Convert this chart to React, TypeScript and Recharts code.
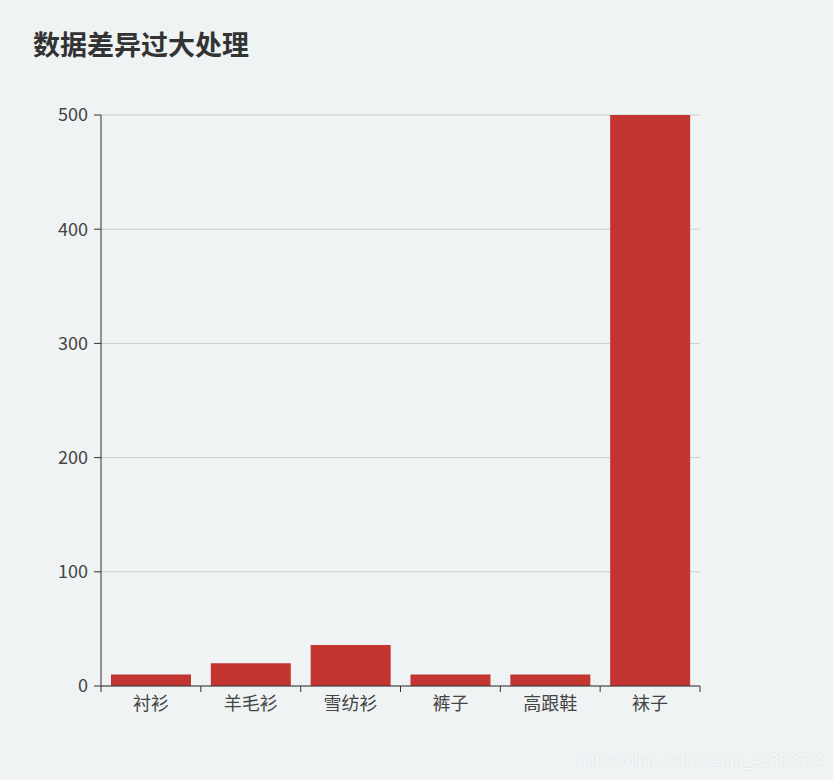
import { BarChart, Bar, XAxis, YAxis, CartesianGrid } from "recharts";

const categories = ["衬衫", "羊毛衫", "雪纺衫", "裤子", "高跟鞋", "袜子"];
const sales = [10, 20, 36, 10, 10, 500];
const yTicks = [0, 100, 200, 300, 400, 500];

const data = categories.map((name, i) => ({ name, value: sales[i] }));

const FONT = '"Microsoft YaHei", "Noto Sans CJK SC", sans-serif';
const AXIS = "#333";

// ECharts-style category tick: labels centred, tick marks on band edges
function CategoryTick(props: any) {
  const { x, y, payload, width, visibleTicksCount, index } = props;
  const step = width / visibleTicksCount;
  const axisY = y - 9;
  return (
    <g>
      <line x1={x - step / 2} y1={axisY} x2={x - step / 2} y2={axisY + 6} stroke={AXIS} />
      {index === visibleTicksCount - 1 && (
        <line x1={x + step / 2} y1={axisY} x2={x + step / 2} y2={axisY + 6} stroke={AXIS} />
      )}
      <text
        x={x}
        y={y + 2}
        dy="0.71em"
        textAnchor="middle"
        fill="#444"
        fontSize={18}
        fontFamily={FONT}
      >
        {payload.value}
      </text>
    </g>
  );
}

export default function App() {
  return (
    <div
      style={{
        position: "absolute",
        left: 0,
        top: 0,
        width: 833,
        height: 780,
        background: "#eff3f4",
        fontFamily: FONT,
        overflow: "hidden",
      }}
    >
      <div
        style={{
          position: "absolute",
          left: 33,
          top: 30,
          fontSize: 27,
          lineHeight: "27px",
          fontWeight: 700,
          color: "#333",
        }}
      >
        数据差异过大处理
      </div>
      <BarChart
        width={833}
        height={780}
        data={data}
        margin={{ top: 115, right: 133, bottom: 0, left: 0 }}
        barCategoryGap="10%"
      >
        <CartesianGrid vertical={false} stroke="#ccc" />
        <XAxis
          dataKey="name"
          height={94}
          axisLine={{ stroke: AXIS }}
          tickLine={false}
          tickSize={6}
          tickMargin={3}
          interval={0}
          tick={<CategoryTick />}
        />
        <YAxis
          width={101}
          domain={[0, 500]}
          ticks={yTicks}
          allowDataOverflow
          axisLine={{ stroke: AXIS }}
          tickLine={{ stroke: AXIS }}
          tickSize={7}
          tickMargin={6}
          tick={{ fill: "#444", fontSize: 18, fontFamily: FONT }}
        />
        <Bar dataKey="value" fill="#c23531" isAnimationActive={false} />
      </BarChart>
      <div
        style={{
          position: "absolute",
          right: 10,
          top: 752,
          fontSize: 16,
          lineHeight: "18px",
          fontFamily: "Arial, 'Liberation Sans', sans-serif",
          color: "#f8fafb",
          textShadow: "0 0 2px #d3d8da",
          whiteSpace: "nowrap",
        }}
      >
        https://blog.csdn.net/qq_41853674
      </div>
    </div>
  );
}
